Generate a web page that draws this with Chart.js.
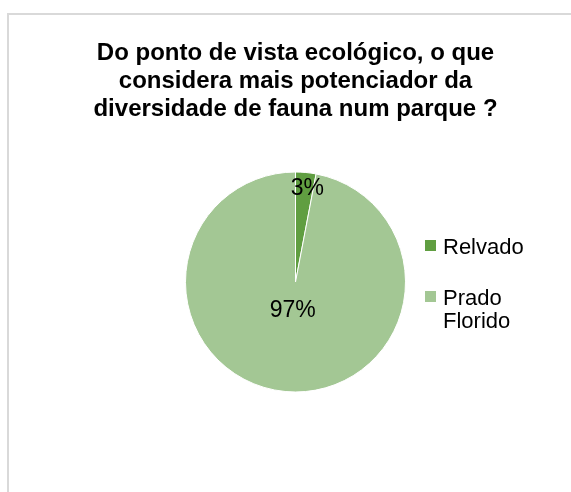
<!DOCTYPE html>
<html lang="pt">
<head>
<meta charset="utf-8">
<title>Diversidade de fauna</title>
<script src="https://cdn.jsdelivr.net/npm/chart.js@4.4.1/dist/chart.umd.min.js"></script>
<style>
  html, body { margin: 0; padding: 0; background: #fff; }
  .frame {
    position: absolute;
    left: 7px;
    top: 13px;
    right: -4px;
    bottom: -4px;
    border-left: 2px solid #d9d9d9;
    border-top: 2px solid #d9d9d9;
  }
  .wrap { position: absolute; left: 0; top: 0; width: 571px; height: 492px; }
</style>
</head>
<body>
<div class="frame"></div>
<div class="wrap"><canvas id="faunaChart" width="571" height="492"></canvas></div>
<script>
(function () {
  'use strict';

  var categories = ['Relvado', 'Prado Florido'];
  var values = [3, 97];
  var colors = ['#609e41', '#a3c794'];
  var titleLines = [
    'Do ponto de vista ecológico, o que',
    'considera mais potenciador da',
    'diversidade de fauna num parque ?'
  ];

  var FONT = "'Liberation Sans', Arial, sans-serif";

  // percentagens dentro das fatias, a uma fração do raio
  var sliceLabels = {
    id: 'sliceLabels',
    afterDatasetsDraw: function (chart) {
      var ctx = chart.ctx;
      var meta = chart.getDatasetMeta(0);
      var data = chart.data.datasets[0].data;
      var total = data.reduce(function (a, b) { return a + b; }, 0);
      ctx.save();
      ctx.font = '23px ' + FONT;
      ctx.fillStyle = '#000';
      ctx.textAlign = 'center';
      ctx.textBaseline = 'middle';
      meta.data.forEach(function (arc, i) {
        var p = arc.getProps(['x', 'y', 'startAngle', 'endAngle', 'outerRadius'], true);
        var mid = (p.startAngle + p.endAngle) / 2;
        var share = data[i] / total;
        var small = share < 0.5;
        var dist = p.outerRadius * (small ? 0.85 : 0.26);
        // a etiqueta pequena fica um pouco para o lado de fora da fatia
        var x = p.x + Math.cos(mid) * dist + (small ? 3 : 0);
        var y = p.y + Math.sin(mid) * dist;
        ctx.fillText(Math.round(share * 100) + '%', x, y);
      });
      ctx.restore();
    }
  };

  // legenda à direita, com quebra de linha nos nomes compridos
  var sideLegend = {
    id: 'sideLegend',
    afterDraw: function (chart) {
      var ctx = chart.ctx;
      var arc = chart.getDatasetMeta(0).data[0];
      if (!arc) return;
      var cx = arc.x, cy = arc.y, r = arc.outerRadius;
      var boxX = cx + r + 19.5;
      var textX = boxX + 18;
      var maxW = 100;
      var lineH = 23;
      var gap = 28;

      ctx.save();
      ctx.font = '22px ' + FONT;
      ctx.textBaseline = 'alphabetic';
      ctx.textAlign = 'left';

      var items = chart.data.labels.map(function (label, i) {
        var words = String(label).split(' ');
        var lines = [];
        var cur = '';
        words.forEach(function (w) {
          var test = cur ? cur + ' ' + w : w;
          if (cur && ctx.measureText(test).width > maxW) {
            lines.push(cur);
            cur = w;
          } else {
            cur = test;
          }
        });
        if (cur) lines.push(cur);
        return { lines: lines, color: chart.data.datasets[0].backgroundColor[i] };
      });

      var span = 0;
      items.forEach(function (it, i) {
        span += (it.lines.length - 1) * lineH;
        if (i < items.length - 1) span += lineH + gap;
      });
      var y = cy - span / 2 + 9;

      items.forEach(function (it) {
        ctx.fillStyle = it.color;
        ctx.fillRect(boxX, y - 14, 11, 11);
        ctx.fillStyle = '#000';
        it.lines.forEach(function (line, j) {
          ctx.fillText(line, textX, y + j * lineH);
        });
        y += (it.lines.length - 1) * lineH + lineH + gap;
      });
      ctx.restore();
    }
  };

  new Chart(document.getElementById('faunaChart'), {
    type: 'pie',
    data: {
      labels: categories,
      datasets: [{
        data: values,
        backgroundColor: colors,
        borderColor: '#ffffff',
        borderWidth: 1
      }]
    },
    plugins: [sliceLabels, sideLegend],
    options: {
      responsive: false,
      animation: false,
      layout: { padding: { left: 20, right: 0, top: 0, bottom: 99.5 } },
      plugins: {
        legend: { display: false },
        tooltip: { enabled: false },
        title: {
          display: true,
          text: titleLines,
          color: '#000',
          font: { family: FONT, size: 24, weight: 'bold', lineHeight: 1.17 },
          padding: { top: 39, bottom: 48.26 }
        }
      }
    }
  });
})();
</script>
</body>
</html>
